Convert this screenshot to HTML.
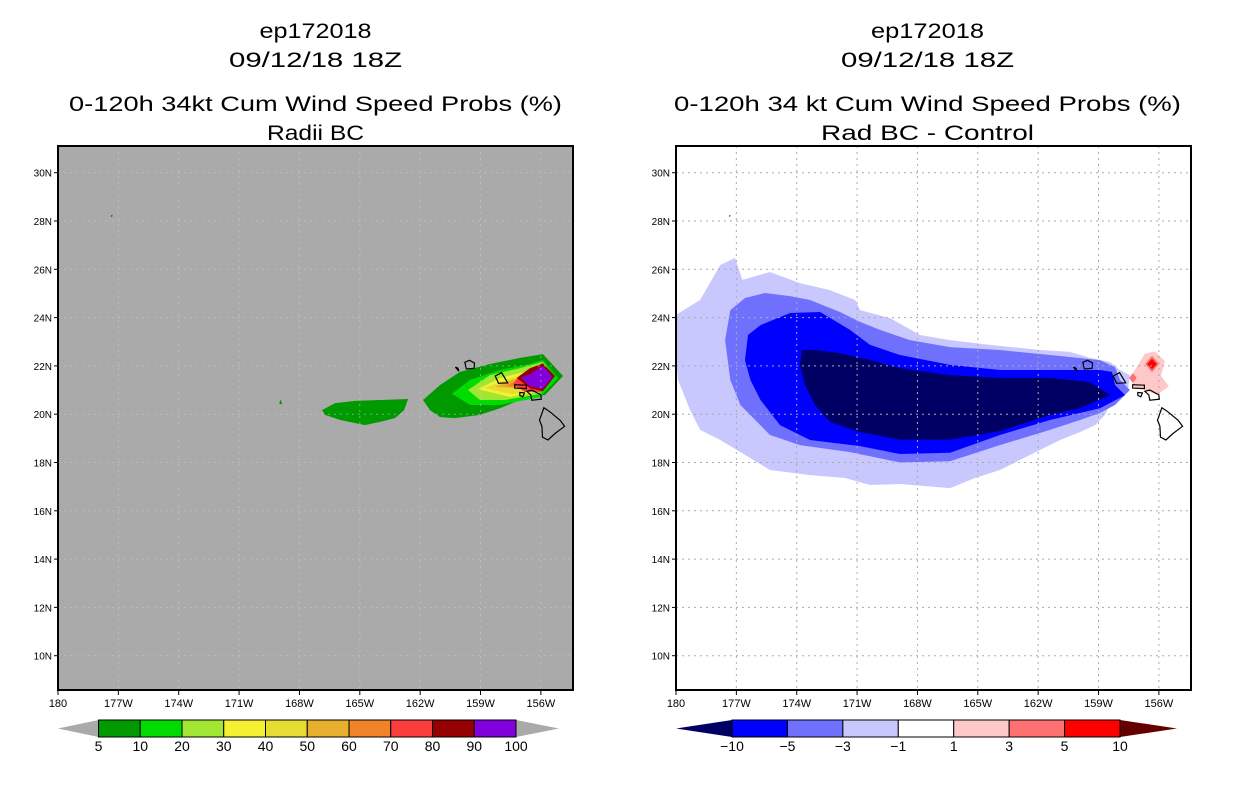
<!DOCTYPE html>
<html><head><meta charset="utf-8">
<style>
html,body{margin:0;padding:0;background:#fff;}
svg{display:block;font-family:"Liberation Sans",sans-serif;}
</style></head>
<body>
<svg id="c" width="1236" height="800" viewBox="0 0 1236 800" xmlns="http://www.w3.org/2000/svg"></svg>
<script>
// ---- data (lon in degrees West, lat in degrees North) ----
const lonTicks = [180,177,174,171,168,165,162,159,156];
const lonLabels = ["180","177W","174W","171W","168W","165W","162W","159W","156W"];
const latTicks = [30,28,26,24,22,20,18,16,14,12,10];
const latLabels = ["30N","28N","26N","24N","22N","20N","18N","16N","14N","12N","10N"];

const probLevels = ["5","10","20","30","40","50","60","70","80","90","100"];
const probColors = ["#009a00","#00dc00","#a0e632","#f5f032","#e6dc32","#e6af2d","#f08228","#fa3c3c","#960000","#8200dc"];
const diffLevels = ["\u221210","\u22125","\u22123","\u22121","1","3","5","10"];
const diffColors = ["#0000ff","#7070ff","#c8c8ff","#ffffff","#ffc8c8","#ff7070","#ff0000"];

// left panel probability regions: [colorIndex, polygon]
const probBlobA = [[166.88,20.17],[166.23,20.46],[165.24,20.55],[164.0,20.59],[162.6,20.63],[162.8,20.17],[163.25,19.84],[164.0,19.68],[164.74,19.55],[165.98,19.76],[166.73,19.97]];
const probBlobB = [[168.95,20.62],[168.85,20.42],[169.0,20.42]];
const prob5 = [[161.86,20.59],[161.01,21.21],[160.02,21.75],[158.53,22.08],[157.04,22.33],[155.9,22.49],[154.9,21.58],[155.8,20.79],[156.79,20.67],[158.03,20.25],[159.03,19.97],[160.27,19.84],[161.01,19.88],[161.51,20.17]];
const prob10 = [[160.42,20.84],[159.52,21.42],[158.03,21.83],[156.54,22.08],[155.9,22.24],[155.15,21.5],[156.04,20.71],[158.03,20.38],[159.52,20.38]];
const prob20 = [[159.62,21.0],[158.53,21.62],[157.04,21.91],[155.9,22.16],[155.35,21.58],[156.14,20.83],[157.78,20.59],[159.03,20.59]];
const prob30 = [[159.13,21.04],[158.03,21.5],[156.79,21.75],[155.9,22.08],[155.45,21.58],[156.29,20.92],[157.53,20.71]];
const prob40 = [[158.78,21.08],[157.78,21.42],[156.64,21.66],[155.9,22.04],[155.55,21.58],[156.39,21.0],[157.44,20.83]];
const prob50 = [[158.28,21.13],[157.44,21.42],[156.54,21.62],[155.9,22.0],[155.6,21.54],[156.44,21.04]];
const prob60 = [[157.78,21.17],[157.04,21.42],[156.29,21.62],[155.9,21.95],[155.65,21.5],[156.54,21.08]];
const prob70 = [[157.39,21.25],[157.04,21.62],[156.54,21.83],[155.9,22.12],[155.45,21.58],[156.04,20.92],[156.79,20.92]];
const prob80 = [[157.2,21.5],[156.54,21.91],[155.9,22.1],[155.3,21.58],[155.9,20.95],[156.54,21.08]];
const prob90 = [[157.0,21.52],[156.54,21.66],[155.9,22.0],[155.42,21.54],[155.9,21.05],[156.54,21.15]];
const probLayers = [[0,probBlobA],[0,probBlobB],[0,prob5],[1,prob10],[2,prob20],[3,prob30],[4,prob40],[5,prob50],[6,prob60],[7,prob70],[8,prob80],[9,prob90]];

// right panel difference regions
const diffM1 = [[180,24.11],[178.8,24.73],[177.8,26.18],[177.07,26.47],[176.7,25.56],[175.33,25.89],[173.84,25.43],[172.35,25.14],[171.1,24.73],[170.85,24.31],[169.36,23.98],[167.87,23.28],[166.38,23.07],[164.39,22.87],[161.91,22.66],[160.42,22.58],[159.42,22.33],[158.43,22.16],[157.93,21.83],[157.44,21.62],[157.53,21.08],[157.93,20.79],[158.43,20.38],[158.68,19.97],[159.17,19.55],[159.92,19.26],[160.91,18.93],[162.41,18.31],[163.9,17.69],[165.14,17.36],[166.38,16.94],[168.87,17.11],[170.36,17.07],[171.6,17.36],[173.34,17.48],[175.33,17.69],[177.8,18.93],[178.8,19.35],[179.3,20.17],[179.9,21.42],[180,22.24]];
const diffM3 = [[177.3,24.31],[176.57,24.81],[175.58,25.02],[174.33,24.89],[173.34,24.73],[171.85,24.23],[170.85,23.82],[169.86,23.49],[168.37,23.07],[166.38,22.78],[163.9,22.66],[160.91,22.41],[158.93,22.24],[158.18,21.95],[157.93,21.42],[157.44,21.0],[158.18,20.38],[158.93,20.05],[159.92,19.76],[161.41,19.35],[163.9,18.72],[166.38,18.05],[168.87,18.0],[171.35,18.43],[173.84,18.72],[175.33,19.14],[176.8,20.38],[177.3,21.42],[177.56,23.07]];
const diffM5 = [[176.42,23.28],[175.8,23.69],[174.33,24.19],[172.84,24.23],[171.35,23.49],[170.36,22.87],[168.87,22.45],[166.38,22.04],[163.9,21.83],[161.41,21.83],[158.93,21.83],[158.33,21.75],[158.18,21.21],[157.68,20.79],[158.93,20.25],[161.41,19.76],[163.9,19.14],[166.38,18.4],[168.87,18.35],[170.85,18.68],[173.34,18.93],[174.83,19.55],[175.8,20.59],[176.3,21.42],[176.57,22.24]];
const diffM10 = [[173.74,22.66],[173.09,22.66],[171.85,22.53],[170.36,22.24],[168.87,21.91],[166.38,21.62],[163.9,21.5],[161.41,21.5],[159.42,21.33],[158.43,20.79],[159.92,20.25],[161.41,19.97],[163.9,19.3],[166.38,18.95],[168.87,18.95],[170.85,19.26],[172.35,19.68],[173.09,20.38],[173.59,21.21],[173.84,22.04]];
const diffP1 = [[157.44,21.5],[156.7,22.5],[156.2,22.6],[155.7,22.2],[155.9,21.6],[155.5,21.15],[156.1,20.8],[156.7,21.0],[157.2,21.1]];
const diffP3 = [[156.34,22.42],[156.0,22.08],[156.34,21.74],[156.68,22.08]];
const diffP3b = [[157.29,21.7],[157.1,21.5],[157.29,21.3],[157.48,21.5]];
const diffP5 = [[156.34,22.3],[156.1,22.08],[156.34,21.86],[156.58,22.08]];
const diffLayers = [[2,diffM1],[1,diffM3],[0,diffM5],[-1,diffM10],[4,diffP1],[5,diffP3],[5,diffP3b],[6,diffP5]];

// coastlines
const bigIsland = [[155.85,20.27],[155.55,20.1],[155.05,19.75],[154.82,19.5],[155.3,19.2],[155.65,18.93],[155.92,19.05],[155.95,19.5],[156.07,19.75]];
const maui = [[156.7,20.95],[156.45,21.0],[156.0,20.8],[155.98,20.62],[156.45,20.58],[156.5,20.8]];
const molokai = [[157.3,21.22],[156.72,21.2],[156.72,21.06],[157.3,21.08]];
const lanai = [[157.05,20.9],[156.82,20.88],[156.9,20.72],[157.05,20.78]];
const oahu = [[158.27,21.58],[157.95,21.72],[157.65,21.3],[158.1,21.28]];
const kauai = [[159.78,22.15],[159.55,22.23],[159.3,22.12],[159.32,21.9],[159.7,21.87]];
const niihau = [[160.25,21.95],[160.08,21.78],[160.12,21.9]];
const midway = [[177.35,28.22],[177.3,28.2]];
const coasts = [bigIsland,maui,molokai,lanai,oahu,kauai,niihau,midway];

// ---- drawing ----
const NS="http://www.w3.org/2000/svg";
const svg=document.getElementById('c');
const PX0=[58,676], PW=515, PY0=146, PH=544;
const DEGX=20.12, DEGY=24.15, YLAT30=172.7;
function xs(p,lon){return PX0[p]+(180-lon)*DEGX;}
function ys(lat){return YLAT30+(30-lat)*DEGY;}
function el(tag,attrs,parent){const e=document.createElementNS(NS,tag);for(const k in attrs)e.setAttribute(k,attrs[k]);(parent||svg).appendChild(e);return e;}
function pts(p,poly){return poly.map(q=>xs(p,q[0]).toFixed(1)+','+ys(q[1]).toFixed(1)).join(' ');}

const titles=[["ep172018","09/12/18 18Z","0-120h 34kt Cum Wind Speed Probs (%)","Radii BC"],
              ["ep172018","09/12/18 18Z","0-120h 34 kt Cum Wind Speed Probs (%)","Rad BC - Control"]];
const titleW=[[112,173,493,97],[113,173,507,213]];
const titleY=[38,67,111,140];

for(let p=0;p<2;p++){
  const g=el('g',{});
  
  
  const cx=PX0[p]+PW/2+(p?-6:0);
  titles[p].forEach((t,i)=>{
    const tx=el('text',{x:cx,y:titleY[i],'text-anchor':'middle','font-size':21,textLength:titleW[p][i],lengthAdjust:'spacingAndGlyphs',fill:'#000'},g);
    tx.textContent=t;
    
    
  });
  const clipId='clip'+p;
  const cp=el('clipPath',{id:clipId},g);
  el('rect',{x:PX0[p],y:PY0,width:PW,height:PH},cp);
  const bg=el('rect',{x:PX0[p],y:PY0,width:PW,height:PH,fill:p?'#ffffff':'#aaaaaa'},g);
  
  
  const fg=el('g',{'clip-path':'url(#'+clipId+')'},g);
  const layers=p?diffLayers:probLayers;
  layers.forEach((L,i)=>{
    const col=p?(L[0]<0?'#000064':diffColors[L[0]]):probColors[L[0]];
    const pg=el('polygon',{points:pts(p,L[1]),fill:col},fg);
    
    
  });
  // grid
  const gc=p?'#aaaaaa':'#c8c8c8';
  lonTicks.forEach(l=>{const ln=el('line',{x1:xs(p,l),x2:xs(p,l),y1:PY0,y2:PY0+PH,stroke:gc,'stroke-dasharray':'2,4','stroke-width':1,opacity:p?1:0.6},fg);
    });
  latTicks.forEach(l=>{const ln=el('line',{x1:PX0[p],x2:PX0[p]+PW,y1:ys(l),y2:ys(l),stroke:gc,'stroke-dasharray':'2,4','stroke-width':1,opacity:p?1:0.6},fg);
    });
  coasts.forEach(c=>{const cl=el('polygon',{points:pts(p,c),fill:'none',stroke:'#000','stroke-width':1.2},fg);
    });
  const fr=el('rect',{x:PX0[p],y:PY0,width:PW,height:PH,fill:'none',stroke:'#000','stroke-width':2},g);
  
  lonTicks.forEach((l,i)=>{
    el('line',{x1:xs(p,l),x2:xs(p,l),y1:PY0+PH,y2:PY0+PH+5,stroke:'#000','stroke-width':1},g);
    const t=el('text',{x:xs(p,l),y:PY0+PH+17,'text-anchor':'middle','font-size':11},g);
    t.textContent=lonLabels[i];
    
  });
  latTicks.forEach((l,i)=>{
    el('line',{x1:PX0[p]-4,x2:PX0[p],y1:ys(l),y2:ys(l),stroke:'#000','stroke-width':1},g);
    const t=el('text',{x:PX0[p]-6,y:ys(l)+4,'text-anchor':'end','font-size':10},g);
    t.textContent=latLabels[i];
    
  });
}

// colorbars
function colorbar(name,x0,x1,tl,tr,cols,labels,ltri,rtri){
  const g=el('g',{});
  
  
  const y0=720,y1=737,ym=728.5,n=cols.length,w=(x1-x0)/n;
  el('polygon',{points:`${tl},${ym} ${x0},${y0} ${x0},${y1}`,fill:ltri},g);
  el('polygon',{points:`${tr},${ym} ${x1},${y0} ${x1},${y1}`,fill:rtri},g);
  cols.forEach((c,i)=>{const r=el('rect',{x:x0+i*w,y:y0,width:w,height:y1-y0,fill:c,stroke:'#000','stroke-width':1},g);
    });
  labels.forEach((s,i)=>{const t=el('text',{x:x0+i*w,y:751,'text-anchor':'middle','font-size':14},g);t.textContent=s;
    });
}
colorbar('prob-colorbar',98.5,516,58,559,probColors,probLevels,'#aaaaaa','#aaaaaa');
colorbar('diff-colorbar',732,1120,676,1177,diffColors,diffLevels,'#000064','#640000');
</script>
</body></html>
